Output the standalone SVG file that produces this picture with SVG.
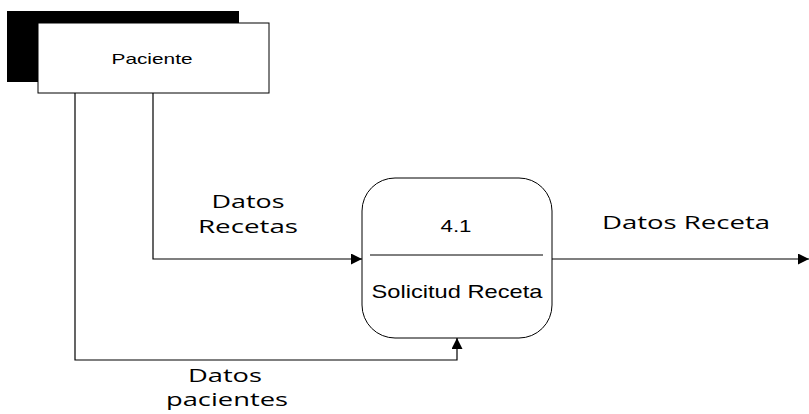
<svg xmlns="http://www.w3.org/2000/svg" width="809" height="414" viewBox="0 0 809 414">
<style>
.ln{fill:none;stroke:#000;stroke-width:1.2}
.lbl{font-family:"Open Sans","Liberation Sans",sans-serif;font-size:18px;fill:#000;text-anchor:middle}
.nt{font-family:"Liberation Sans",Arial,sans-serif;fill:#000;text-anchor:middle}
</style>
<defs>
<marker id="ah" viewBox="0 0 10 10" refX="10" refY="5" markerWidth="11" markerHeight="11" markerUnits="userSpaceOnUse" orient="auto">
<path d="M0,0 L10,5 L0,10 z" fill="#000"/>
</marker>
</defs>
<rect width="809" height="414" fill="#fff"/>
<g id="paciente">
<rect x="7" y="11" width="232" height="71" fill="#000"/>
<rect x="38" y="23" width="231" height="70" fill="#fff" stroke="#000" stroke-width="1"/>
<text class="nt" x="152" y="64" font-size="15" textLength="81" lengthAdjust="spacingAndGlyphs">Paciente</text>
</g>
<g id="proceso">
<rect x="362" y="178" width="190" height="160" rx="33" ry="33" fill="#fff" stroke="#000" stroke-width="1"/>
<line x1="370" y1="255" x2="543" y2="255" stroke="#000" stroke-width="1"/>
<text class="nt" x="456" y="232" font-size="16" textLength="31" lengthAdjust="spacingAndGlyphs">4.1</text>
<text class="nt" x="457" y="298" font-size="19" textLength="171" lengthAdjust="spacingAndGlyphs">Solicitud Receta</text>
</g>
<g id="connectors">
<polyline class="ln" points="153,93 153,259 362,259" marker-end="url(#ah)"/>
<polyline class="ln" points="75,93 75,360 457,360 457,338" marker-end="url(#ah)"/>
<polyline class="ln" points="552,259 809,259" marker-end="url(#ah)"/>
</g>
<g id="labels">
<text class="lbl" x="248" y="208" textLength="73" lengthAdjust="spacingAndGlyphs">Datos</text>
<text class="lbl" x="248" y="233" textLength="100" lengthAdjust="spacingAndGlyphs">Recetas</text>
<text class="lbl" x="686" y="229" textLength="168" lengthAdjust="spacingAndGlyphs">Datos Receta</text>
<text class="lbl" x="225" y="382" textLength="74" lengthAdjust="spacingAndGlyphs">Datos</text>
<text class="lbl" x="227" y="406" textLength="122" lengthAdjust="spacingAndGlyphs">pacientes</text>
</g>
</svg>
